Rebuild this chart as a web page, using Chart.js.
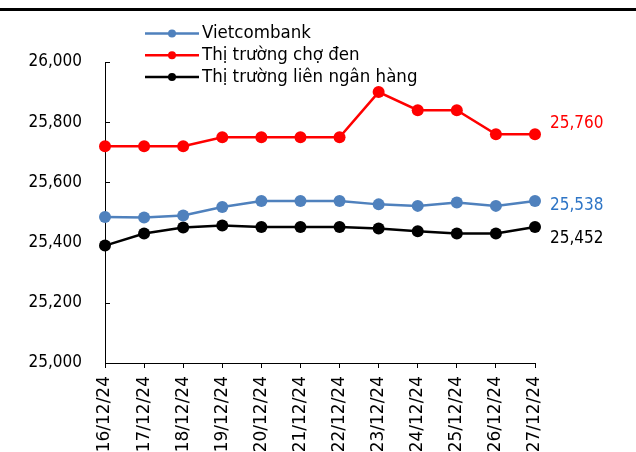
<!DOCTYPE html>
<html>
<head>
<meta charset="utf-8">
<script src="https://cdn.jsdelivr.net/npm/chart.js@4/dist/chart.umd.min.js"></script>
<style>
  html, body { margin: 0; padding: 0; background: #fff; }
  #wrap { width: 636px; height: 452px; position: relative; }
</style>
</head>
<body>
<div id="wrap"><canvas id="c" width="636" height="452"></canvas></div>
<script>
// Ngày giao dịch
const dates = ['16/12/24','17/12/24','18/12/24','19/12/24','20/12/24','21/12/24',
               '22/12/24','23/12/24','24/12/24','25/12/24','26/12/24','27/12/24'];

// Tỷ giá USD/VND
const vietcombank   = [25485, 25483, 25490, 25518, 25538, 25538, 25538, 25527, 25522, 25533, 25522, 25538];
const choDen        = [25720, 25720, 25720, 25750, 25750, 25750, 25750, 25900, 25840, 25840, 25760, 25760];
const lienNganHang  = [25390, 25430, 25450, 25457, 25452, 25452, 25452, 25447, 25438, 25430, 25430, 25452];

const seriesNames = ['Vietcombank', 'Thị trường chợ đen', 'Thị trường liên ngân hàng'];
const yMin = 25000, yMax = 26000, yStep = 200;

const FONT = '"DejaVu Sans Condensed", "DejaVu Sans", sans-serif';
const FONT_WIDE = '"DejaVu Sans", sans-serif';
const FSIZE = 17;
const fmt = v => v.toLocaleString('en-US');

// Heavy rule across the top of the figure
const topRule = {
  id: 'topRule',
  afterDraw(chart) {
    const ctx = chart.ctx;
    ctx.save();
    ctx.fillStyle = '#000';
    ctx.fillRect(0, 8, chart.width, 3);
    ctx.restore();
  }
};

// Inward tick marks on the value axis
const innerTicks = {
  id: 'innerTicks',
  afterDraw(chart) {
    const y = chart.scales.y, ctx = chart.ctx;
    ctx.save();
    ctx.strokeStyle = '#000';
    ctx.lineWidth = 1;
    y.ticks.forEach(t => {
      const py = Math.round(y.getPixelForValue(t.value)) + 0.5;
      ctx.beginPath();
      ctx.moveTo(y.right, py);
      ctx.lineTo(y.right + 5, py);
      ctx.stroke();
    });
    ctx.restore();
  }
};

// Legend in the upper area of the plot
const lineLegend = {
  id: 'lineLegend',
  afterDraw(chart) {
    const ctx = chart.ctx;
    ctx.save();
    chart.data.datasets.forEach((ds, i) => {
      const cy = 33.5 + i * 21.7;
      ctx.strokeStyle = ds.borderColor;
      ctx.lineWidth = 2.5;
      ctx.beginPath();
      ctx.moveTo(145, cy);
      ctx.lineTo(199, cy);
      ctx.stroke();
      ctx.fillStyle = ds.borderColor;
      ctx.beginPath();
      ctx.arc(172, cy, 4, 0, Math.PI * 2);
      ctx.fill();
      ctx.fillStyle = '#000';
      ctx.font = '18.5px ' + FONT;
      ctx.textBaseline = 'middle';
      ctx.textAlign = 'left';
      ctx.fillText(ds.label, 202, cy);
    });
    ctx.restore();
  }
};

// Value of the last point written to the right of each line
const endLabels = {
  id: 'endLabels',
  afterDatasetsDraw(chart) {
    const ctx = chart.ctx;
    ctx.save();
    ctx.font = FSIZE + 'px ' + FONT;
    ctx.textBaseline = 'middle';
    ctx.textAlign = 'left';
    chart.data.datasets.forEach((ds, i) => {
      const meta = chart.getDatasetMeta(i);
      const last = meta.data[meta.data.length - 1];
      const v = ds.data[ds.data.length - 1];
      ctx.fillStyle = ds.endLabelColor;
      ctx.fillText(fmt(v), last.x + 15, last.y + ds.endLabelShift);
    });
    ctx.restore();
  }
};

new Chart(document.getElementById('c'), {
  type: 'line',
  data: {
    labels: dates,
    datasets: [
      { label: seriesNames[0], data: vietcombank, borderColor: '#4F81BD', backgroundColor: '#4F81BD',
        endLabelColor: '#2E75C6', endLabelShift: 5 },
      { label: seriesNames[1], data: choDen, borderColor: '#FF0000', backgroundColor: '#FF0000',
        endLabelColor: '#FF0000', endLabelShift: -11 },
      { label: seriesNames[2], data: lienNganHang, borderColor: '#000000', backgroundColor: '#000000',
        endLabelColor: '#000000', endLabelShift: 12 }
    ].map(d => Object.assign(d, {
      borderWidth: 2.5, pointRadius: 6, pointHoverRadius: 6, pointBorderWidth: 0,
      tension: 0, fill: false
    }))
  },
  options: {
    responsive: false,
    animation: false,
    devicePixelRatio: 1,
    layout: { padding: { top: 62, right: 101, left: 0, bottom: 0 } },
    plugins: { legend: { display: false }, tooltip: { enabled: false } },
    scales: {
      x: {
        offset: false,
        grid: { display: true, drawOnChartArea: false, drawTicks: true, tickLength: 5, color: '#000' },
        border: { display: true, color: '#000', width: 1 },
        ticks: { color: '#000', font: { family: FONT_WIDE, size: FSIZE }, maxRotation: 90, minRotation: 90,
                 padding: 8, autoSkip: false },
        afterFit: s => { s.height = 89; }
      },
      y: {
        min: yMin, max: yMax,
        grid: { display: true, drawOnChartArea: false, drawTicks: false },
        border: { display: true, color: '#000', width: 1 },
        ticks: { stepSize: yStep, color: '#000', font: { family: FONT, size: FSIZE }, padding: 23,
                 callback: v => fmt(v) },
        afterFit: s => { s.width = 105; }
      }
    }
  },
  plugins: [topRule, innerTicks, lineLegend, endLabels]
});
</script>
</body>
</html>
